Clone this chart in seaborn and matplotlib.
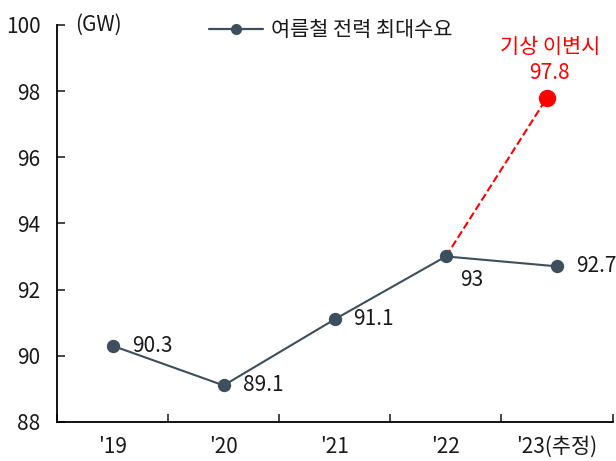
import pandas as pd
import seaborn as sns
import matplotlib.pyplot as plt
from matplotlib.lines import Line2D

# 여름철 전력 최대수요 (GW)
years = ["'19", "'20", "'21", "'22", "'23(추정)"]
demand = [90.3, 89.1, 91.1, 93.0, 92.7]
# 기상 이변시 시나리오: '22 -> '23
extreme_years = ["'22", "'23(추정)"]
extreme_demand = [93.0, 97.8]

sns.set_style("ticks")
plt.rcParams['font.family'] = ['Noto Sans CJK KR', 'DejaVu Sans']
plt.rcParams['font.weight'] = 'light'
plt.rcParams['font.size'] = 15

line_color = '#3d4f5c'
text_color = '#1a1a1a'

df = pd.DataFrame({'pos': range(len(years)), 'year': years, 'demand': demand})
# the scenario point sits a little left of the '23 category in the original
df2 = pd.DataFrame({'pos': [years.index(y) for y in extreme_years], 'demand': extreme_demand})
df2.loc[df2.index[-1], 'pos'] -= 0.09

fig = plt.figure(figsize=(6.16, 4.61), dpi=100)
ax = fig.add_axes([0.0925, 0.085, 0.902, 0.861])

sns.lineplot(data=df2, x='pos', y='demand', ax=ax, color='red', linestyle='--',
             linewidth=1.5, legend=False)
ax.plot(df2['pos'].iloc[-1], df2['demand'].iloc[-1], 'o', color='red', markersize=11.5, zorder=5)
sns.lineplot(data=df, x='pos', y='demand', ax=ax, color=line_color, marker='o',
             markersize=9.6, markeredgewidth=0, linewidth=1.5, legend=False, zorder=4)

# data labels (offsets in points)
offsets = [(14, 0), (14, 0), (13, 0), (10, -17), (14, 0)]
for i, v in enumerate(demand):
    dx, dy = offsets[i]
    ax.annotate(f"{v:g}", (i, v), xytext=(dx, dy), textcoords='offset points',
                ha='left', va='center', color=text_color)
ax.annotate(f"기상 이변시\n{extreme_demand[-1]:g}", (df2['pos'].iloc[-1], extreme_demand[-1]),
            xytext=(2, 10), textcoords='offset points', ha='center', va='bottom',
            color='red', linespacing=1.25)

ax.set_xlim(-0.5, len(years) - 0.5)
ax.set_ylim(88, 100)
ax.set_yticks(range(88, 101, 2))
ax.set_xticks(range(len(years)))
ax.set_xticklabels(years)
ax.set_xticks([i + 0.5 for i in range(-1, len(years))], minor=True)
ax.tick_params(axis='x', which='major', length=0, pad=10, labelcolor=text_color)
ax.tick_params(axis='x', which='minor', direction='in', length=6, width=1.2)
ax.tick_params(axis='y', direction='in', length=6, width=1.2, pad=12, labelcolor=text_color)
ax.set_xlabel('')
ax.set_ylabel('')
for s in ['left', 'bottom']:
    ax.spines[s].set_linewidth(1.3)
    ax.spines[s].set_color('black')
sns.despine(ax=ax)

ax.text(0.032, 1.0, '(GW)', transform=ax.transAxes, ha='left', va='center',
        color=text_color)

handle = Line2D([], [], color=line_color, marker='o', markersize=8, markeredgewidth=0,
                linewidth=1.6)
ax.legend([handle], ['여름철 전력 최대수요'], loc='center', bbox_to_anchor=(0.493, 0.987),
          frameon=False, handlelength=2.6, handletextpad=0.4, labelcolor=text_color)

fig.savefig('out.png', dpi=100)
